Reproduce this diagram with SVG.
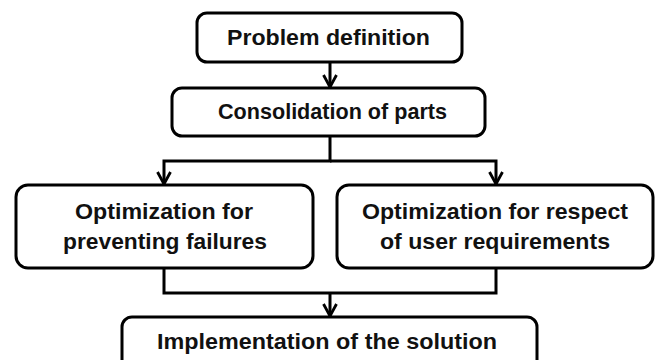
<svg xmlns="http://www.w3.org/2000/svg" width="662" height="360" viewBox="0 0 662 360">
<defs>
<marker id="arr" viewBox="0 -2 16 18" refX="13" refY="7" markerWidth="16" markerHeight="18" markerUnits="userSpaceOnUse" orient="auto">
<path d="M1,0.5 L13,7 L1,13.5" fill="none" stroke="#000" stroke-width="2.8"/>
</marker>
<style>
.box{fill:#fff;stroke:#000;stroke-width:3}
.t{font-family:"Liberation Sans",Arial,sans-serif;font-weight:bold;font-size:22px;fill:#111;text-anchor:middle}
.c{fill:none;stroke:#000;stroke-width:3}
</style>
</defs>
<rect width="662" height="360" fill="#fff"/>
<g id="connectors">
<path class="c" d="M330,62 L330,87" marker-end="url(#arr)"/>
<path class="c" d="M330,136 L330,161 L164,161 L164,184" marker-end="url(#arr)"/>
<path class="c" d="M330,161 L496,161 L496,184" marker-end="url(#arr)"/>
<path class="c" d="M164,268 L164,293 L496,293 L496,268"/>
<path class="c" d="M330,293 L330,316" marker-end="url(#arr)"/>
</g>
<g id="n1">
<rect class="box" x="197" y="13" width="265" height="49" rx="10"/>
<text class="t" x="328.5" y="44.5" textLength="203" lengthAdjust="spacingAndGlyphs">Problem definition</text>
</g>
<g id="n2">
<rect class="box" x="172" y="88" width="313" height="48" rx="10"/>
<text class="t" x="332.5" y="118.5" textLength="229" lengthAdjust="spacingAndGlyphs">Consolidation of parts</text>
</g>
<g id="n3">
<rect class="box" x="16" y="185" width="297" height="83" rx="12"/>
<text class="t" x="164" y="218.5" textLength="178" lengthAdjust="spacingAndGlyphs">Optimization for</text>
<text class="t" x="165" y="248.5" textLength="204" lengthAdjust="spacingAndGlyphs">preventing failures</text>
</g>
<g id="n4">
<rect class="box" x="337" y="185" width="316" height="83" rx="12"/>
<text class="t" x="495" y="218.5" textLength="266" lengthAdjust="spacingAndGlyphs">Optimization for respect</text>
<text class="t" x="495" y="248.5" textLength="230" lengthAdjust="spacingAndGlyphs">of user requirements</text>
</g>
<g id="n5">
<rect class="box" x="122" y="317" width="415" height="60" rx="10"/>
<text class="t" x="327" y="348.5" textLength="340" lengthAdjust="spacingAndGlyphs">Implementation of the solution</text>
</g>
</svg>
